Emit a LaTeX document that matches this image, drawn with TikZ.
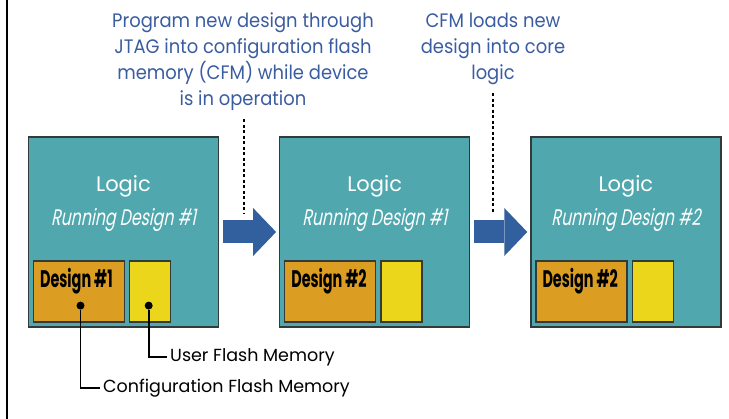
\documentclass[tikz,border=0pt]{standalone}
\usepackage{fontspec}
\setmainfont{Poppins}
\newfontfamily\notefont{Poppins}[FakeStretch=0.92]
\newfontfamily\condfont{Poppins}[FakeStretch=0.6]
\newfontfamily\slantfont{Poppins}[FakeStretch=0.7, FakeSlant=0.2]
\usepackage{xcolor}
\usetikzlibrary{positioning, arrows.meta}

\definecolor{logicteal}{RGB}{80,168,174}
\definecolor{cfmorange}{RGB}{220,158,34}
\definecolor{ufmyellow}{RGB}{236,214,27}
\definecolor{flowblue}{RGB}{50,96,158}
\definecolor{noteblue}{RGB}{58,92,160}
\definecolor{boxedge}{RGB}{50,58,58}

\begin{document}
\begin{tikzpicture}[
        x=1pt, y=-1pt,
        logicbox/.style={draw=boxedge, fill=logicteal, line width=1.2pt,
          minimum width=190pt, minimum height=190pt, inner sep=0pt},
        cfmbox/.style={draw=boxedge, fill=cfmorange, line width=1.2pt,
          minimum width=91pt, minimum height=61pt, inner sep=0pt},
        ufmbox/.style={draw=boxedge, fill=ufmyellow, line width=1.2pt,
          minimum width=41pt, minimum height=61pt, inner sep=0pt},
        logictitle/.style={text=white, font=\fontsize{21}{26}\selectfont, inner sep=0pt},
        runtitle/.style={text=white, font=\slantfont\fontsize{22.5}{26}\selectfont, inner sep=0pt},
        designtext/.style={text=black, font=\condfont\bfseries\fontsize{24}{26}\selectfont, inner sep=0pt},
        notetext/.style={text=noteblue, align=center, inner sep=0pt,
          font=\notefont\fontsize{19.5}{26}\selectfont},
        memtext/.style={text=black, font=\fontsize{17.5}{20}\selectfont, inner sep=3pt},
        dot/.style={circle, fill=black, inner sep=0pt, minimum size=8pt},
        leader/.style={draw=black, line width=1.8pt},
        tapline/.style={draw=black, line width=1.2pt, dash pattern=on 3pt off 2.5pt},
        flowarrow/.style={draw=flowblue, line width=23pt,
          -{Triangle[length=23pt, width=48pt, line width=0pt]},
          shorten <=4pt, shorten >=3pt},
      ]

      \useasboundingbox (0,0) rectangle (729,419);
      \draw[line width=2pt] (7,0) -- (7,419);

      \node[logicbox] (logicA) at (123.5,232) {};
      \node[logicbox, right=60pt of logicA] (logicB) {};
      \node[logicbox, right=60pt of logicB] (logicC) {};

      \node[logictitle, anchor=base] (titleA) at ([yshift=-55pt]logicA.north) {Logic};
      \node[logictitle, anchor=base] (titleB) at ([yshift=-55pt]logicB.north) {Logic};
      \node[logictitle, anchor=base] (titleC) at ([yshift=-55pt]logicC.north) {Logic};
      \node[runtitle, anchor=base] (runA) at ([yshift=-89pt]logicA.north) {Running Design \#1};
      \node[runtitle, anchor=base] (runB) at ([yshift=-89pt]logicB.north) {Running Design \#1};
      \node[runtitle, anchor=base] (runC) at ([yshift=-89pt]logicC.north) {Running Design \#2};

      \node[cfmbox, anchor=south west] (cfmA) at ([shift={(5pt,5pt)}]logicA.south west) {};
      \node[cfmbox, anchor=south west] (cfmB) at ([shift={(5pt,5pt)}]logicB.south west) {};
      \node[cfmbox, anchor=south west] (cfmC) at ([shift={(5pt,5pt)}]logicC.south west) {};
      \node[ufmbox, right=4pt of cfmA] (ufmA) {};
      \node[ufmbox, right=4pt of cfmB] (ufmB) {};
      \node[ufmbox, right=4pt of cfmC] (ufmC) {};

      \node[designtext, anchor=base west] (designA) at ([shift={(7pt,-27pt)}]cfmA.north west) {Design \#1};
      \node[designtext, anchor=base west] (designB) at ([shift={(7pt,-27pt)}]cfmB.north west) {Design \#2};
      \node[designtext, anchor=base west] (designC) at ([shift={(7pt,-27pt)}]cfmC.north west) {Design \#2};

      \node[dot] (dotC) at ([xshift=1.5pt, yshift=17pt]cfmA.south) {};
      \node[dot] (dotU) at ([xshift=-1.5pt, yshift=17pt]ufmA.south) {};
      \node[memtext, anchor=west] (ufmlabel) at (167,357) {User Flash Memory};
      \node[memtext, anchor=west] (cfmlabel) at (100,388) {Configuration Flash Memory};
      \draw[leader] (dotU) |- (ufmlabel);
      \draw[leader] (dotC) |- (cfmlabel);

      \draw[flowarrow] (logicA) -- (logicB);
      \draw[flowarrow] (logicB) -- (logicC);

      \node[notetext] (noteA) at (243,62) {Program new design through\\JTAG into configuration flash\\memory (CFM) while device\\is in operation};
      \node[notetext] (noteB) at (493,49) {CFM loads new\\design into core\\logic};
      \coordinate (tapA) at (244,214);
      \coordinate (tapB) at (493,214);
      \draw[tapline, shorten <=8pt] (noteA.south -| tapA) -- (tapA);
      \draw[tapline, shorten <=8pt] (noteB.south -| tapB) -- (tapB);

    \end{tikzpicture}
\end{document}
